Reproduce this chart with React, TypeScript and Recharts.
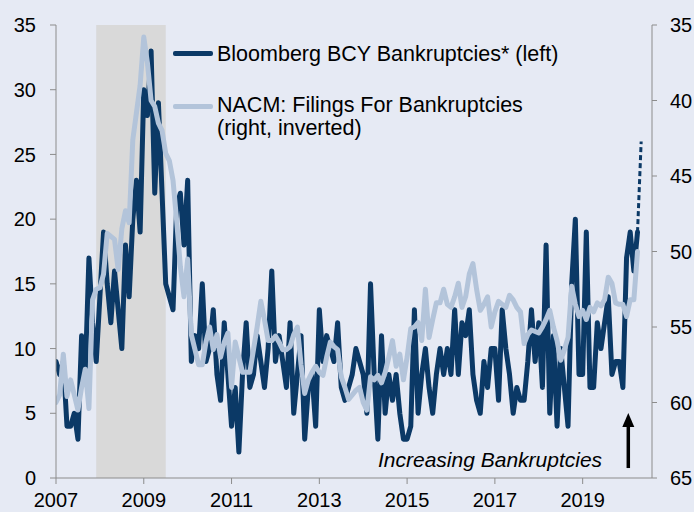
import { LineChart, Line, XAxis, YAxis, ReferenceArea, ReferenceLine } from 'recharts';

// monthly, Jan 2007 .. Apr 2020
const START_YEAR = 2007;

// Bloomberg BCY bankruptcies (left axis)
const bcy = [
  9, 8, 9, 4, 4, 5, 3, 11, 8, 17, 12, 9,
  14, 19, 15, 12, 16, 13, 10, 18, 14, 20, 23, 19,
  30, 28, 33, 22, 29, 22, 15, 14, 13, 21, 22, 18,
  23, 9, 11, 10, 15, 9, 10, 13, 8, 6, 12, 8,
  4, 7, 2, 8, 12, 7, 8, 11, 9, 7, 10, 16,
  9, 11, 9, 7, 12, 5, 8, 11, 3, 7, 8, 4,
  13, 9, 11, 10, 9, 12, 7, 6, 7, 8, 10, 9,
  8, 5, 15, 8, 3, 11, 5, 8, 6, 8, 5, 3,
  3, 4, 13, 5, 8, 10, 7, 5, 8, 10, 8, 10,
  8, 13, 8, 12, 11, 13, 8, 6, 5, 9, 7, 10,
  10, 6, 13, 10, 8, 5, 7, 6, 6, 9, 13, 9,
  12, 7, 18, 5, 11, 4, 10, 7, 4, 15, 20, 8,
  8, 19, 7, 7, 12, 10, 12, 14, 8, 9, 9, 7,
  17, 19, 16, 19,
];

// dashed month-to-date extension (Apr -> May 2020)
const bcyEstimate = [19, 26];

// NACM filings for bankruptcies (right axis, inverted)
const nacm = [
  60, 59.5, 56.8, 59.6, 58.5, 59.5, 60.5, 59, 57.8, 60.4, 53.2, 52.5,
  52.4, 51.5, 48.8, 49, 49.2, 51.2, 48.5, 47.3, 48.1, 42.6, 40.8, 39,
  35.8, 37.5, 40, 40.4, 41.5, 42, 43.5, 44, 45.3, 48, 51, 53,
  50.5, 55.5, 56.5, 57.5, 57.5, 56, 55, 56.5, 55.5, 57, 56, 55.4,
  59, 56, 57, 58, 58, 58, 56.5, 55, 53.3, 54.5, 55.9, 55.9,
  55.6, 56, 56.5, 56.5, 56.3, 55.5, 55, 57.5, 59.4, 58.5, 58, 57.6,
  58, 58.2, 57, 56, 56.3, 56.5, 58.3, 59, 59.8, 59.5, 59.2, 59,
  60, 60.5, 58.3, 58.5, 58.2, 58.7, 58, 57, 55.9, 57.6, 56.8, 58.5,
  57, 55.1, 55, 54.7, 55.9, 52.5, 55.7, 54.5, 53.4, 53.4, 52.5, 53.5,
  53.7, 53, 52.1, 53.7, 53, 51.5, 50.8, 52.5, 53.9, 53.5, 53, 55,
  54, 53.3, 53.5, 53.7, 52.9, 53.2, 53.7, 54, 56.1, 55.5, 55.2, 55.3,
  55.4, 55, 54.5, 53.9, 55, 55.9, 57.2, 56.5, 55.7, 52.3, 53.5, 54.3,
  53.9, 54.5, 53.7, 54, 53.4, 53.6, 53.2, 51.7, 52.1, 53.4, 53.5, 53.5,
  54.3, 53.2, 53.2, 50,
];

const yearTicks = [2007, 2009, 2011, 2013, 2015, 2017, 2019];
const leftTicks = [0, 5, 10, 15, 20, 25, 30, 35];
const rightTicks = [35, 40, 45, 50, 55, 60, 65];

// recession Dec 2007 - Jun 2009
const recession = [2007 + 11 / 12, 2009.5];

const DARK = '#0b3966';
const LIGHT = '#b3c4da';
const BG = '#e6eaf4';
const AXIS = '#8c8c8c';
const FONT = '"Liberation Sans", Arial, sans-serif';

const data = [];
for (let i = 0; i < bcy.length + 1; i++) {
  const row: any = { t: START_YEAR + i / 12 };
  if (i < bcy.length) {
    row.bcy = bcy[i];
    row.nacm = nacm[i];
  }
  if (i >= bcy.length - 1) row.est = bcyEstimate[i - (bcy.length - 1)];
  data.push(row);
}

const Arrow = (props: any) => {
  const { x1, y1, x2, y2 } = props;
  const top = Math.min(y1, y2);
  const bottom = Math.max(y1, y2);
  return (
    <g>
      <line x1={x1} x2={x2} y1={bottom} y2={top + 12} stroke="#000" strokeWidth={3.5} />
      <polygon points={`${x1 - 6},${top + 14} ${x1 + 6},${top + 14} ${x1},${top}`} fill="#000" />
    </g>
  );
};

export default function App() {
  return (
    <div style={{ position: 'absolute', left: 0, top: 0, width: 694, height: 512, background: BG, fontFamily: FONT, overflow: 'hidden' }}>
      <LineChart width={694} height={512} data={data} margin={{ top: 25, right: 0, bottom: 0, left: 0 }}>
        <ReferenceArea x1={recession[0]} x2={recession[1]} y1={0} y2={35} yAxisId="left" fill="#d9d9d9" fillOpacity={1} stroke="none" />
        <XAxis
          dataKey="t"
          type="number"
          domain={[2007, 2020.58]}
          ticks={yearTicks}
          allowDataOverflow
          height={34}
          tickSize={6}
          tickMargin={9}
          stroke={AXIS}
          tick={{ fill: '#000', fontSize: 20, fontFamily: FONT }}
        />
        <YAxis
          yAxisId="left"
          domain={[0, 35]}
          ticks={leftTicks}
          width={56}
          tickSize={6}
          tickMargin={14}
          stroke={AXIS}
          tick={{ fill: '#000', fontSize: 20, fontFamily: FONT }}
        />
        <YAxis
          yAxisId="right"
          orientation="right"
          reversed
          domain={[35, 65]}
          ticks={rightTicks}
          width={42}
          tickSize={5}
          tickMargin={13}
          stroke={AXIS}
          tick={{ fill: '#000', fontSize: 20, fontFamily: FONT, textAnchor: 'start' }}
        />
        <Line yAxisId="left" dataKey="bcy" stroke={DARK} strokeWidth={5} dot={false} isAnimationActive={false} strokeLinejoin="round" strokeLinecap="round" />
        <Line yAxisId="left" dataKey="est" stroke={DARK} strokeWidth={3} strokeDasharray="5 3" dot={false} isAnimationActive={false} />
        <Line yAxisId="right" dataKey="nacm" stroke={LIGHT} strokeWidth={5} dot={false} isAnimationActive={false} strokeLinejoin="round" strokeLinecap="round" />
        <ReferenceLine
          yAxisId="left"
          segment={[{ x: 2020.04, y: 0.77 }, { x: 2020.04, y: 5.02 }]}
          shape={<Arrow />}
        />
      </LineChart>

      <div style={{ position: 'absolute', left: 173, top: 51, width: 40, height: 5, background: DARK, borderRadius: 2 }} />
      <div style={{ position: 'absolute', left: 217, top: 42, fontSize: 21.5, lineHeight: '24px', whiteSpace: 'nowrap' }}>
        Bloomberg BCY Bankruptcies* (left)
      </div>
      <div style={{ position: 'absolute', left: 173, top: 104, width: 40, height: 5, background: LIGHT, borderRadius: 2 }} />
      <div style={{ position: 'absolute', left: 217, top: 94, fontSize: 21.5, lineHeight: '23px', whiteSpace: 'nowrap' }}>
        NACM: Filings For Bankruptcies<br />(right, inverted)
      </div>
      <div style={{ position: 'absolute', left: 378, top: 448, fontSize: 21, lineHeight: '24px', fontStyle: 'italic', whiteSpace: 'nowrap' }}>
        Increasing Bankruptcies
      </div>
    </div>
  );
}
